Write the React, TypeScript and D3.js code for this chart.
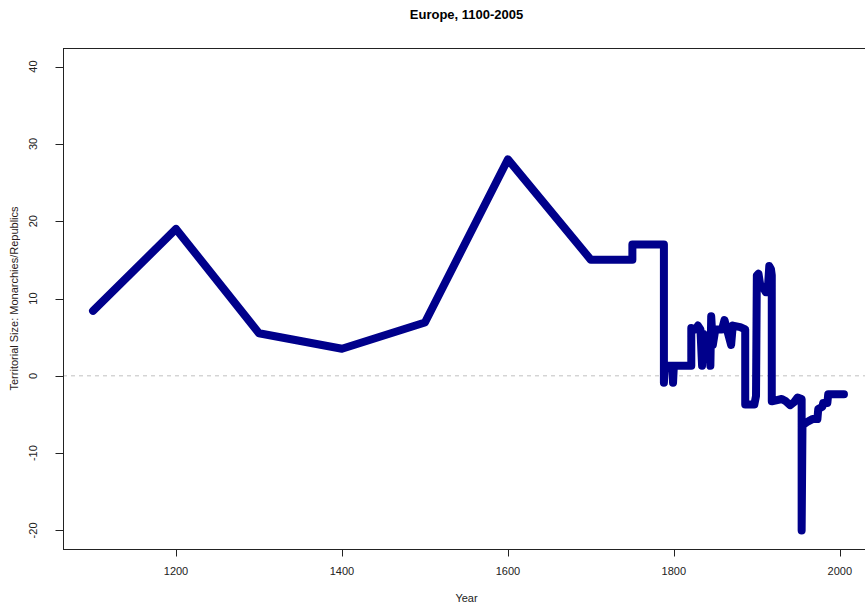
import React from "react";
import * as d3 from "d3";

const years = [
  1100, 1200, 1300, 1400, 1500, 1600, 1700, 1750, 1750, 1788, 1788, 1789, 1798,
  1799, 1800, 1821, 1821, 1826, 1829, 1832, 1834, 1836, 1840, 1843, 1844, 1845,
  1847, 1850, 1858, 1861, 1864, 1869, 1871, 1880, 1886, 1886, 1897, 1899, 1900,
  1902, 1904, 1907, 1911, 1913, 1915, 1917, 1918, 1918, 1930, 1935, 1940, 1945,
  1949, 1954, 1954, 1955, 1960, 1967, 1973, 1974, 1979, 1980, 1985, 1986, 2005,
];
const values = [
  8.4, 19.0, 5.5, 3.5, 6.9, 28.0, 15.0, 15.0, 17.0, 17.0, -0.9, 1.3, 1.3, -0.9,
  1.3, 1.3, 6.2, 6.0, 6.5, 6.0, 1.3, 5.4, 5.0, 4.6, 1.3, 7.7, 4.0, 6.0, 6.0, 7.2,
  6.0, 4.0, 6.5, 6.3, 6.0, -3.7, -3.7, -2.6, 13.0, 13.2, 11.8, 11.5, 10.8, 10.8,
  14.2, 13.8, 13.0, -3.3, -3.0, -3.3, -3.8, -3.4, -2.8, -3.0, -20.0, -6.4, -6.0,
  -5.6, -5.6, -4.3, -4.0, -3.5, -3.5, -2.4, -2.4,
];
const xTicks = [1200, 1400, 1600, 1800, 2000];
const yTicks = [-20, -10, 0, 10, 20, 30, 40];
const title = "Europe, 1100-2005";
const xLabel = "Year";
const yLabel = "Territorial Size: Monarchies/Republics";

const W = 865;
const H = 610;
const plot = { left: 63, right: 874, top: 48, bottom: 549 };
const FONT = "'Liberation Sans', Arial, Helvetica, sans-serif";

export default function App() {
  const xMin = 1100, xMax = 2005;
  const xPad = (xMax - xMin) * 0.04;
  const yMin = -20, yMax = 40;
  const yPad = (yMax - yMin) * 0.04;
  const x = d3.scaleLinear().domain([xMin - xPad, xMax + xPad]).range([plot.left, plot.right]);
  const y = d3.scaleLinear().domain([yMin - yPad, yMax + yPad]).range([plot.bottom, plot.top]);
  const pts: [number, number][] = years.map((yr, i) => [yr, values[i]]);
  const line = d3
    .line<[number, number]>()
    .x((d) => x(d[0]))
    .y((d) => y(d[1]));
  const tick = 7.5;
  return (
    <svg
      width={W}
      height={H}
      style={{ position: "absolute", left: 0, top: 0, background: "#fff" }}
      fontFamily={FONT}
    >
      <rect x={0} y={0} width={W} height={H} fill="#fff" />
      <defs>
        <clipPath id="plotclip">
          <rect x={plot.left} y={plot.top} width={plot.right - plot.left} height={plot.bottom - plot.top} />
        </clipPath>
      </defs>
      <text x={(plot.left + plot.right) / 2 - 2} y={19} textAnchor="middle" fontWeight="bold" fontSize={13} fill="#000">
        {title}
      </text>
      <line
        x1={plot.left}
        x2={plot.right}
        y1={y(0)}
        y2={y(0)}
        stroke="#c0c0c0"
        strokeWidth={1}
        strokeDasharray="4,4"
      />
      <path
        d={line(pts) || ""}
        fill="none"
        stroke="#00008B"
        strokeWidth={8}
        strokeLinejoin="round"
        strokeLinecap="round"
        clipPath="url(#plotclip)"
      />
      <rect
        x={plot.left + 0.5}
        y={plot.top + 0.5}
        width={plot.right - plot.left}
        height={plot.bottom - plot.top}
        fill="none"
        stroke="#222"
        strokeWidth={1}
      />
      {xTicks.map((t) => (
        <g key={"x" + t}>
          <line x1={Math.round(x(t)) + 0.5} x2={Math.round(x(t)) + 0.5} y1={plot.bottom} y2={plot.bottom + tick} stroke="#222" />
          <text x={x(t)} y={575} textAnchor="middle" fontSize={11} fill="#222">
            {t}
          </text>
        </g>
      ))}
      {yTicks.map((t) => (
        <g key={"y" + t}>
          <line x1={plot.left - tick} x2={plot.left} y1={Math.round(y(t)) + 0.5} y2={Math.round(y(t)) + 0.5} stroke="#222" />
          <text transform={`translate(36.5,${y(t)}) rotate(-90)`} textAnchor="middle" fontSize={11} fill="#222">
            {t}
          </text>
        </g>
      ))}
      <text x={(plot.left + plot.right) / 2 - 2} y={602} textAnchor="middle" fontSize={11} fill="#222">
        {xLabel}
      </text>
      <text
        transform={`translate(18,${(plot.top + plot.bottom) / 2}) rotate(-90)`}
        textAnchor="middle"
        fontSize={11}
        fill="#2a1a1a"
      >
        {yLabel}
      </text>
    </svg>
  );
}
